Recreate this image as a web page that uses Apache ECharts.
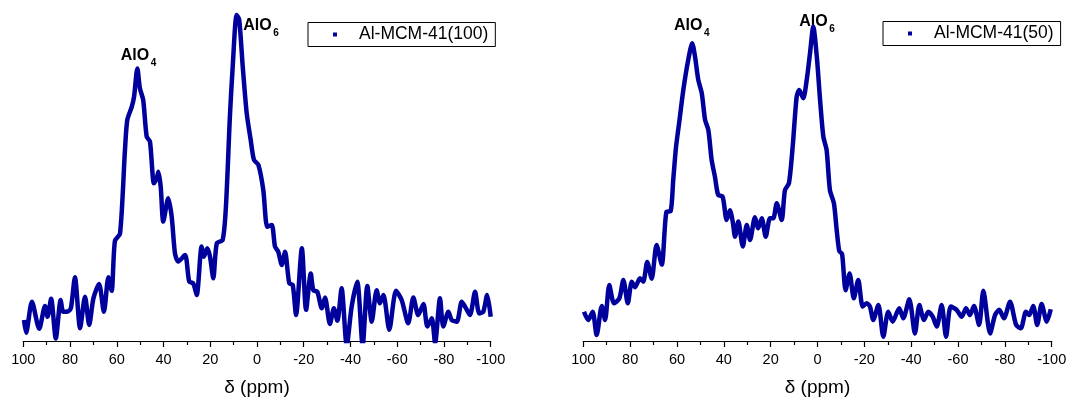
<!DOCTYPE html>
<html>
<head>
<meta charset="utf-8">
<script src="https://cdn.jsdelivr.net/npm/echarts@6/dist/echarts.min.js"></script>
<style>
  html, body { margin: 0; padding: 0; background: #fff; }
  #chart { width: 1069px; height: 398px; }
</style>
</head>
<body>
<div id="chart"></div>
<script>
// 27Al MAS NMR spectra of two Al-MCM-41 samples (intensity in arbitrary units)
const seriesNames = ['Al-MCM-41(100)', 'Al-MCM-41(50)'];

const shift100 = [99.7, 98.8, 96.3, 93.2, 90.7, 89.6, 88.1, 86.1, 84.0, 82.9, 80.7, 79.6, 77.9, 75.7, 73.6, 71.8, 70.0, 67.6, 65.5, 63.6,
  62.2, 60.8, 58.6, 56.5, 55.5, 53.6, 52.6, 51.2, 50.1, 48.7, 47.2, 45.8, 44.1, 42.9, 42.2, 41.2, 40.1, 38.0, 36.5, 35.1,
  33.7, 30.8, 29.0, 27.3, 25.8, 23.7, 22.7, 21.3, 20.1, 18.7, 17.2, 14.7, 13.3, 11.6, 10.4, 8.7, 7.6, 6.1, 4.4, 2.7,
  1.3, -0.6, -2.7, -4.4, -6.3, -7.7, -9.1, -10.6, -12.0, -13.8, -15.3, -16.7, -19.2, -21.0, -23.0, -24.1, -25.8, -27.7, -29.1, -31.2,
  -32.9, -34.4, -36.2, -38.4, -40.5, -42.9, -45.2, -47.2, -49.1, -51.2, -52.6, -54.1, -56.6, -59.5, -61.9, -64.7, -66.9, -69.0, -71.2, -72.9,
  -74.8, -76.2, -78.3, -79.7, -81.9, -83.3, -85.5, -87.6, -89.0, -91.1, -93.3, -95.1, -96.8, -98.5, -100.0];
const int100 = [6.4, 2.5, 12.0, 3.7, 10.7, 7.4, 12.9, 0.8, 12.5, 8.9, 9.1, 10.1, 19.4, 3.9, 13.5, 4.9, 13.0, 17.4, 8.9, 19.4,
  15.3, 30.5, 32.8, 58.2, 67.4, 71.4, 74.5, 83.1, 77.0, 73.5, 62.3, 60.8, 48.1, 49.6, 51.6, 47.0, 36.4, 43.5, 37.9, 26.7,
  24.2, 26.2, 18.1, 17.6, 14.0, 28.8, 25.7, 28.3, 25.7, 19.1, 29.8, 30.8, 40.9, 68.4, 83.6, 99.4, 97.9, 83.6, 69.4, 61.3,
  55.2, 53.7, 46.0, 34.8, 35.4, 28.8, 27.2, 23.2, 27.2, 17.6, 17.1, 7.9, 28.3, 9.5, 20.6, 15.5, 15.0, 10.0, 13.3, 5.2,
  10.0, 6.2, 16.1, -1.5, 10.5, 18.1, -1.5, 16.8, 5.9, 15.5, 11.5, 14.0, 3.4, 15.3, 12.5, 5.4, 13.3, 7.9, 11.3, 4.4,
  6.9, -0.6, 13.0, 4.4, 8.9, 6.4, 5.9, 12.0, 10.5, 7.9, 15.0, 8.4, 8.9, 14.0, 7.4];

const shift50 = [99.7, 97.9, 96.0, 94.3, 92.1, 90.7, 88.9, 86.9, 84.6, 82.9, 81.0, 79.3, 77.9, 75.8, 74.4, 72.7, 70.8, 68.7, 66.5, 64.5,
  62.7, 61.6, 60.4, 59.0, 57.3, 55.2, 53.5, 52.3, 50.9, 49.4, 48.0, 46.6, 45.2, 43.8, 42.4, 40.5, 38.8, 37.4, 36.2, 35.2,
  33.8, 31.9, 30.2, 28.8, 26.7, 25.3, 23.8, 22.1, 20.3, 18.9, 17.4, 15.3, 13.9, 12.2, 10.6, 8.9, 7.8, 6.1, 4.6, 3.2,
  1.8, 0.3, -1.1, -2.5, -3.9, -5.3, -7.0, -8.2, -9.3, -10.5, -12.0, -13.7, -15.5, -17.4, -19.3, -21.0, -22.4, -23.8, -26.0, -28.1,
  -30.2, -32.1, -34.9, -36.6, -39.2, -41.6, -43.5, -45.5, -47.3, -49.2, -50.9, -53.0, -54.9, -56.9, -59.4, -61.6, -63.4, -65.1, -66.8, -69.0,
  -70.8, -73.7, -75.8, -77.6, -79.6, -82.2, -84.8, -86.8, -89.0, -90.4, -92.1, -93.8, -95.7, -97.9, -99.6];
const int50 = [8.9, 6.4, 8.9, 1.8, 10.7, 6.4, 17.1, 11.5, 13.0, 18.6, 11.5, 18.1, 16.4, 19.1, 18.1, 24.1, 19.0, 29.3, 23.3, 39.4,
  39.6, 49.1, 59.2, 66.9, 76.5, 85.7, 90.8, 86.7, 79.6, 75.5, 67.4, 64.3, 55.2, 50.1, 44.5, 44.0, 36.9, 39.9, 36.4, 31.8,
  36.4, 28.8, 35.4, 30.8, 37.7, 34.4, 37.4, 31.8, 37.4, 37.4, 42.0, 36.9, 46.0, 48.1, 59.2, 74.5, 76.5, 74.0, 79.6, 87.7,
  95.8, 86.7, 73.5, 62.3, 58.2, 46.0, 42.0, 33.8, 27.4, 26.5, 15.5, 20.6, 13.0, 18.6, 10.5, 11.5, 10.5, 6.4, 11.0, 1.3,
  8.9, 5.9, 10.0, 6.9, 12.7, 2.3, 11.0, 6.4, 8.9, 7.4, 4.4, 11.0, 1.3, 10.5, 9.5, 7.4, 10.0, 7.9, 10.7, 4.9,
  15.3, 2.3, 7.9, 9.5, 6.9, 12.0, 4.9, 3.9, 8.9, 7.9, 10.7, 4.9, 11.3, 5.9, 9.7];

const xTicks = { min: -100, max: 100, step: 20 };

// peak labels: anchor (ppm, intensity) = left end / baseline of the text
const peakLabels = [
  { grid: 0, ppm: 58.3, y: 85.4, main: 'AlO', sub: '4' },
  { grid: 0, ppm: 5.9, y: 94.6, main: 'AlO', sub: '6' },
  { grid: 1, ppm: 61.3, y: 94.5, main: 'AlO', sub: '4' },
  { grid: 1, ppm: 7.8, y: 95.8, main: 'AlO', sub: '6' }
];

const FONT = 'Arial, "Liberation Sans", Helvetica, sans-serif';
const LINE_COLOR = '#00009c';

function zip(xs, ys) { return xs.map((x, i) => [x, ys[i]]); }

function makeXAxis(gridIndex) {
  return {
    type: 'value', gridIndex, inverse: true,
    min: xTicks.min, max: xTicks.max, interval: xTicks.step,
    name: 'δ (ppm)', nameLocation: 'middle', nameGap: 37,
    nameTextStyle: { fontFamily: FONT, fontSize: 19, color: '#000' },
    axisLine: { show: true, onZero: false, lineStyle: { color: '#000', width: 1.2 } },
    axisTick: { show: true, inside: false, length: 6, lineStyle: { color: '#000', width: 1.2 } },
    minorTick: { show: true, splitNumber: 2, length: 4, lineStyle: { color: '#000', width: 1.2 } },
    axisLabel: { fontFamily: FONT, fontSize: 14.5, color: '#000', margin: 11 },
    splitLine: { show: false }
  };
}
function makeYAxis(gridIndex) {
  return {
    type: 'value', gridIndex, min: 0, max: 100,
    show: false, splitLine: { show: false }
  };
}
function makeLegend(name, left, top) {
  return {
    data: [name], left, top, orient: 'horizontal',
    icon: 'rect', itemWidth: 4, itemHeight: 4,
    padding: [2, 7, 2, 25],
    borderColor: '#000', borderWidth: 1, backgroundColor: '#fff',
    textStyle: { fontFamily: FONT, fontSize: 17.5, color: '#000', lineHeight: 20, padding: [0, 0, 0, 17] }
  };
}

const chart = echarts.init(document.getElementById('chart'), null, { renderer: 'canvas' });
chart.setOption({
  animation: false,
  backgroundColor: '#fff',
  grid: [
    { left: 23.3, right: 578.3, top: 13, bottom: 57, outerBoundsMode: 'none', containLabel: false },
    { left: 583.3, right: 17.3, top: 13, bottom: 57, outerBoundsMode: 'none', containLabel: false }
  ],
  xAxis: [makeXAxis(0), makeXAxis(1)],
  yAxis: [makeYAxis(0), makeYAxis(1)],
  legend: [makeLegend(seriesNames[0], 308, 22.5), makeLegend(seriesNames[1], 883, 21.5)],
  series: [
    {
      name: seriesNames[0], type: 'line', xAxisIndex: 0, yAxisIndex: 0,
      data: zip(shift100, int100), showSymbol: false, smooth: 0.25, clip: true,
      itemStyle: { color: LINE_COLOR }, lineStyle: { color: LINE_COLOR, width: 4.5 }
    },
    {
      name: seriesNames[1], type: 'line', xAxisIndex: 1, yAxisIndex: 1,
      data: zip(shift50, int50), showSymbol: false, smooth: 0.25, clip: true,
      itemStyle: { color: LINE_COLOR }, lineStyle: { color: LINE_COLOR, width: 4.5 }
    }
  ]
});

// peak labels with subscripts, placed in data coordinates
const MAIN_FS = 16, SUB_FS = 10;
const graphics = [];
peakLabels.forEach(function (p) {
  const pt = chart.convertToPixel({ gridIndex: p.grid }, [p.ppm, p.y]);
  graphics.push({
    type: 'text', x: pt[0], y: pt[1] - 0.34 * MAIN_FS,
    style: { text: p.main, font: 'bold ' + MAIN_FS + 'px ' + FONT, fill: '#000', align: 'left', verticalAlign: 'middle' }
  });
  graphics.push({
    type: 'text', x: pt[0] + 30, y: pt[1] + 6 - 0.34 * SUB_FS,
    style: { text: p.sub, font: 'bold ' + SUB_FS + 'px ' + FONT, fill: '#000', align: 'left', verticalAlign: 'middle' }
  });
});
chart.setOption({ graphic: graphics });
</script>
</body>
</html>
